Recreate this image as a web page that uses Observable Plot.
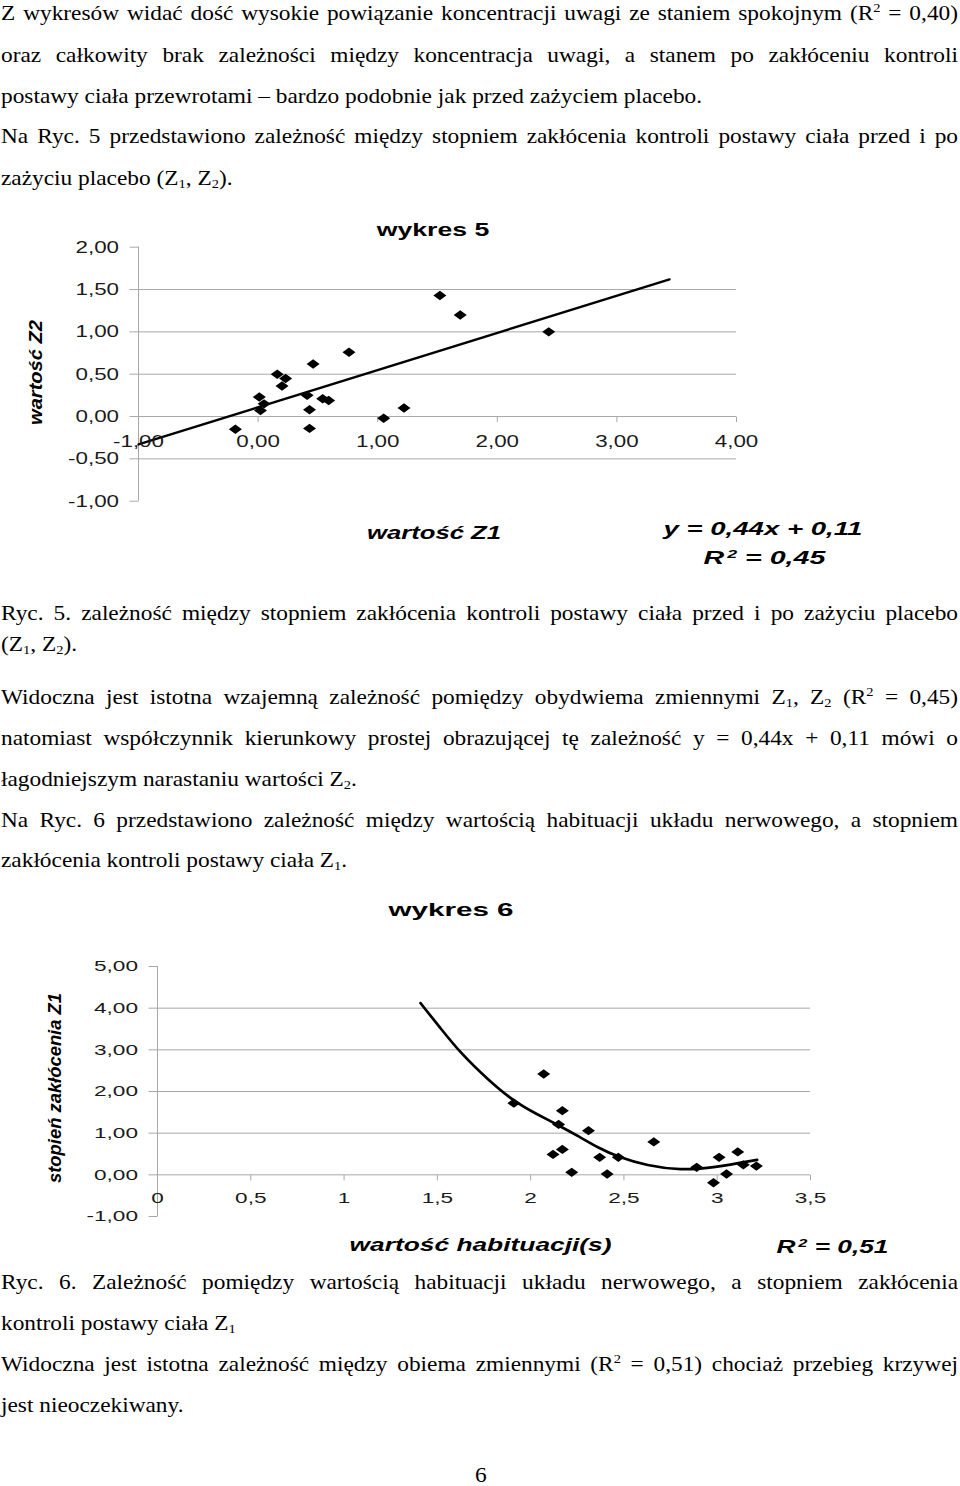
<!DOCTYPE html>
<html><head><meta charset="utf-8">
<script src="https://cdn.jsdelivr.net/npm/d3@7"></script>
<script src="https://cdn.jsdelivr.net/npm/@observablehq/plot@0.6"></script>
<style>
html,body{margin:0;padding:0;background:#fff;}
#page{position:relative;width:960px;height:1486px;overflow:hidden;background:#fff;}
.ln{position:absolute;left:1px;font-family:"Liberation Serif","Times New Roman",serif;font-size:21px;line-height:21px;white-space:nowrap;color:#000;transform-origin:0 0;}
.sub{font-size:13px;vertical-align:-3px;line-height:0;}
.sup{font-size:13px;vertical-align:8px;line-height:0;}
.lbl{position:absolute;font-family:"Liberation Sans",Arial,sans-serif;white-space:nowrap;color:#000;transform-origin:50% 50%;}
.lsup{font-size:0.62em;vertical-align:0.55em;line-height:0;margin-left:2px;}
</style></head><body><div id="page"></div>
<script>
// ---------- Chart "wykres 5" data ----------
const z1Values = [-0.19, 0.01, 0.02, 0.05, 0.16, 0.23, 0.20, 0.46, 0.41, 0.43, 0.43, 0.54, 0.59, 0.76, 1.05, 1.22, 1.52, 1.69, 2.43];
const z2Values = [-0.15, 0.23, 0.07, 0.15, 0.50, 0.45, 0.36, 0.62, 0.25, 0.08, -0.14, 0.21, 0.19, 0.76, -0.02, 0.10, 1.43, 1.20, 1.00];
const trendZ1 = [-1, 3.44];
const trendZ2 = [-0.33, 1.62];
const xDomain5 = [-1, 4];
const yDomain5 = [-1, 2];
const yTicks5 = [2, 1.5, 1, 0.5, 0, -0.5, -1];
const yTickLabels5 = ["2,00", "1,50", "1,00", "0,50", "0,00", "-0,50", "-1,00"];
const xTicks5 = [-1, 0, 1, 2, 3, 4];
const xTickLabels5 = ["-1,00", "0,00", "1,00", "2,00", "3,00", "4,00"];
const grid5 = [1.5, 1, 0.5, -0.5];
const axisAt5 = 0;

// ---------- Chart "wykres 6" data ----------
const habValues = [1.91, 2.07, 2.15, 2.17, 2.12, 2.17, 2.22, 2.31, 2.37, 2.41, 2.47, 2.66, 2.89, 2.98, 3.01, 3.05, 3.11, 3.14, 3.21];
const distValues = [1.72, 2.42, 1.21, 1.54, 0.49, 0.61, 0.06, 1.06, 0.42, 0.02, 0.42, 0.79, 0.18, -0.19, 0.42, 0.02, 0.55, 0.24, 0.21];
const curveHab = [1.41, 1.52, 1.625, 1.767, 1.91, 2.035, 2.146, 2.267, 2.357, 2.467, 2.624, 2.803, 2.981, 3.214];
const curveDist = [4.12, 3.50, 2.92, 2.30, 1.76, 1.45, 1.20, 0.90, 0.66, 0.43, 0.22, 0.11, 0.17, 0.36];
const xDomain6 = [0, 3.5];
const yDomain6 = [-1, 5];
const yTicks6 = [5, 4, 3, 2, 1, 0, -1];
const yTickLabels6 = ["5,00", "4,00", "3,00", "2,00", "1,00", "0,00", "-1,00"];
const xTicks6 = [0, 0.5, 1, 1.5, 2, 2.5, 3, 3.5];
const xTickLabels6 = ["0", "0,5", "1", "1,5", "2", "2,5", "3", "3,5"];
const grid6 = [4, 3, 2, 1];
const axisAt6 = 0;

// ---------- Document text ----------
const Z1 = 'Z<span class="sub">1</span>', Z2 = 'Z<span class="sub">2</span>', R2 = 'R<span class="sup">2</span>';
const bodyLines = [
  {html: `Z wykresów widać dość wysokie powiązanie koncentracji uwagi ze staniem spokojnym (${R2} = 0,40)`, base: 21, justify: true},
  {html: `oraz całkowity brak zależności między koncentracja uwagi, a stanem po zakłóceniu kontroli`, base: 63, justify: true},
  {html: `postawy ciała przewrotami – bardzo podobnie jak przed zażyciem placebo.`, base: 104, end: 676},
  {html: `Na Ryc. 5 przedstawiono zależność między stopniem zakłócenia kontroli postawy ciała przed i po`, base: 144, justify: true},
  {html: `zażyciu placebo (${Z1}, ${Z2}).`, base: 186, end: 236},
  {html: `Ryc. 5. zależność między stopniem zakłócenia kontroli postawy ciała przed i po zażyciu placebo`, base: 621, justify: true},
  {html: `(${Z1}, ${Z2}).`, base: 652, end: 80},
  {html: `Widoczna jest istotna wzajemną zależność pomiędzy obydwiema zmiennymi ${Z1}, ${Z2} (${R2} = 0,45)`, base: 705, justify: true},
  {html: `natomiast współczynnik kierunkowy prostej obrazującej tę zależność y = 0,44x + 0,11 mówi o`, base: 746, justify: true},
  {html: `łagodniejszym narastaniu wartości ${Z2}.`, base: 787, end: 365},
  {html: `Na Ryc. 6 przedstawiono zależność między wartością habituacji układu nerwowego, a stopniem`, base: 828, justify: true},
  {html: `zakłócenia kontroli postawy ciała ${Z1}.`, base: 868, end: 354},
  {html: `Ryc. 6. Zależność pomiędzy wartością habituacji układu nerwowego, a stopniem zakłócenia`, base: 1290, justify: true},
  {html: `kontroli postawy ciała ${Z1}`, base: 1331, end: 239},
  {html: `Widoczna jest istotna zależność między obiema zmiennymi (${R2} = 0,51) chociaż przebieg krzywej`, base: 1372, justify: true},
  {html: `jest nieoczekiwany.`, base: 1413, end: 185},
  {html: `6`, base: 1483, center: 481}
];

const page = document.getElementById('page');
const gridColor = "#a8a8a8";
const tickColor = "#1a1a1a";

// ---------- symbols ----------
const diamond = {draw(ctx) { ctx.moveTo(-6.5, 0); ctx.lineTo(0, -4.7); ctx.lineTo(6.5, 0); ctx.lineTo(0, 4.7); ctx.closePath(); }};
const tickDown = {draw(ctx) { ctx.moveTo(0, 0); ctx.lineTo(0, 5.5); }};
const tickLeft = {draw(ctx) { ctx.moveTo(0, 0); ctx.lineTo(-9, 0); }};

function place(svg, top) {
  Object.assign(svg.style, {position: "absolute", left: "0px", top: top + "px", background: "transparent", overflow: "visible", maxWidth: "none"});
  page.appendChild(svg);
}
function stretchTexts(svg, refText, target) {
  const texts = [...svg.querySelectorAll("text")];
  const ref = texts.find(t => t.textContent === refText);
  const sc = ref ? target / ref.getComputedTextLength() : 1.35;
  texts.forEach(t => {
    let tr = t.getAttribute("transform") || "";
    const xa = t.getAttribute("x");
    if (xa != null && xa !== "" && !isNaN(+xa)) { tr += ` translate(${xa},0)`; t.removeAttribute("x"); }
    t.setAttribute("transform", tr + ` scale(${sc},1)`);
  });
}

// ---------- Chart 5 ----------
const pts5 = z1Values.map((x, i) => ({x, y: z2Values[i]}));
const trend5 = trendZ1.map((x, i) => ({x, y: trendZ2[i]}));
const top5 = 200, h5 = 380;
const svg5 = Plot.plot({
  width: 960, height: h5,
  marginTop: 246.7 - top5, marginBottom: h5 - (500.7 - top5), marginLeft: 138, marginRight: 224,
  x: {domain: xDomain5, axis: null},
  y: {domain: yDomain5, axis: null},
  style: {background: "transparent", overflow: "visible"},
  marks: [
    Plot.ruleY(grid5, {stroke: gridColor, strokeWidth: 1}),
    Plot.ruleY([axisAt5], {stroke: gridColor, strokeWidth: 1}),
    Plot.ruleX([xDomain5[0]], {stroke: gridColor, strokeWidth: 1}),
    Plot.dot(yTicks5, {y: d => d, frameAnchor: "left", symbol: tickLeft, r: 2, stroke: gridColor, fill: "none", strokeWidth: 1}),
    Plot.dot(xTicks5, {x: d => d, y: () => axisAt5, symbol: tickDown, r: 2, stroke: gridColor, fill: "none", strokeWidth: 1}),
    Plot.line(trend5, {x: "x", y: "y", stroke: "#000", strokeWidth: 2.4}),
    Plot.dot(pts5, {x: "x", y: "y", symbol: diamond, r: 5, fill: "#000", stroke: "none"}),
    Plot.text(yTicks5, {y: d => d, frameAnchor: "left", text: (d, i) => yTickLabels5[i], textAnchor: "end", dx: -19.5, fontSize: 17, fontFamily: "Liberation Sans, Arial, sans-serif", fill: tickColor}),
    Plot.text(xTicks5, {x: d => d, y: () => axisAt5, text: (d, i) => xTickLabels5[i], dy: 25.4, fontSize: 17, fontFamily: "Liberation Sans, Arial, sans-serif", fill: tickColor})
  ]
});
place(svg5, top5);
stretchTexts(svg5, "0,00", 43.5);

// ---------- Chart 6 ----------
const pts6 = habValues.map((x, i) => ({x, y: distValues[i]}));
const curve6 = curveHab.map((x, i) => ({x, y: curveDist[i]}));
const top6 = 930, h6 = 320;
const svg6 = Plot.plot({
  width: 960, height: h6,
  marginTop: 966 - top6, marginBottom: h6 - (1216 - top6), marginLeft: 157, marginRight: 150,
  x: {domain: xDomain6, axis: null},
  y: {domain: yDomain6, axis: null},
  style: {background: "transparent", overflow: "visible"},
  marks: [
    Plot.ruleY(grid6, {stroke: gridColor, strokeWidth: 1}),
    Plot.ruleY([axisAt6], {stroke: gridColor, strokeWidth: 1}),
    Plot.ruleX([xDomain6[0]], {stroke: gridColor, strokeWidth: 1}),
    Plot.dot(yTicks6, {y: d => d, frameAnchor: "left", symbol: tickLeft, r: 2, stroke: gridColor, fill: "none", strokeWidth: 1}),
    Plot.dot(xTicks6, {x: d => d, y: () => axisAt6, symbol: tickDown, r: 2, stroke: gridColor, fill: "none", strokeWidth: 1}),
    Plot.line(curve6, {x: "x", y: "y", curve: "basis", stroke: "#000", strokeWidth: 2.7}),
    Plot.dot(pts6, {x: "x", y: "y", symbol: diamond, r: 5, fill: "#000", stroke: "none"}),
    Plot.text(yTicks6, {y: d => d, frameAnchor: "left", text: (d, i) => yTickLabels6[i], textAnchor: "end", dx: -19.5, fontSize: 15.5, fontFamily: "Liberation Sans, Arial, sans-serif", fill: tickColor}),
    Plot.text(xTicks6, {x: d => d, y: () => axisAt6, text: (d, i) => xTickLabels6[i], dy: 23.7, fontSize: 15.5, fontFamily: "Liberation Sans, Arial, sans-serif", fill: tickColor})
  ]
});
place(svg6, top6);
stretchTexts(svg6, "5,00", 44);

// ---------- Body text ----------
const lineEls = bodyLines.map(L => {
  const d = document.createElement("div");
  d.className = "ln";
  d.innerHTML = L.html;
  d.style.top = (L.base - 17.6) + "px";
  page.appendChild(d);
  return d;
});
const widths = lineEls.map(d => d.getBoundingClientRect().width);
let tw = 0, nw = 0;
bodyLines.forEach((L, i) => { if (L.end) { tw += L.end - 1; nw += widths[i]; } });
const s = tw / nw;
bodyLines.forEach((L, i) => {
  const d = lineEls[i];
  d.style.transform = `scaleX(${s})`;
  if (L.justify) {
    const n = (d.textContent.match(/ /g) || []).length;
    d.style.wordSpacing = ((957 / s - widths[i]) / n) + "px";
  }
  if (L.center) d.style.left = (L.center - widths[i] * s / 2) + "px";
});

// ---------- Chart titles and labels ----------
const labels = [
  {html: "wykres 5", size: 18, weight: 700, style: "normal", cx: 433, base: 236, w: 112.6},
  {html: "wartość Z1", size: 18, weight: 700, style: "italic", cx: 434, base: 539, w: 134},
  {html: "y = 0,44x + 0,11", size: 18, weight: 700, style: "italic", cx: 762.5, base: 535, w: 199},
  {html: 'R<span class="lsup">2</span> = 0,45', size: 18, weight: 700, style: "italic", cx: 764, base: 564, w: 122},
  {html: "wartość Z2", size: 19, weight: 700, style: "italic", cx: 35.5, cy: 372.5, w: 105, rot: true},
  {html: "wykres 6", size: 18, weight: 700, style: "normal", cx: 450.7, base: 916, w: 125},
  {html: "wartość habituacji(s)", size: 18, weight: 700, style: "italic", cx: 481, base: 1251, w: 262},
  {html: 'R<span class="lsup">2</span> = 0,51', size: 18, weight: 700, style: "italic", cx: 832.5, base: 1253, w: 112},
  {html: "stopień zakłócenia Z1", size: 18, weight: 700, style: "italic", cx: 55, cy: 1088, w: 190, rot: true}
];
labels.forEach(L => {
  const sp = document.createElement("span");
  sp.className = "lbl";
  sp.innerHTML = L.html;
  sp.style.fontSize = L.size + "px";
  sp.style.lineHeight = L.size + "px";
  sp.style.fontWeight = L.weight;
  sp.style.fontStyle = L.style;
  page.appendChild(sp);
  const w = sp.getBoundingClientRect().width;
  sp.style.left = (L.cx - w / 2) + "px";
  if (L.rot) {
    sp.style.top = (L.cy - L.size / 2) + "px";
    sp.style.transform = `rotate(-90deg) scaleX(${L.w / w})`;
  } else {
    sp.style.top = (L.base - 0.8465 * L.size) + "px";
    sp.style.transform = `scaleX(${L.w / w})`;
  }
});
</script>
</body></html>
